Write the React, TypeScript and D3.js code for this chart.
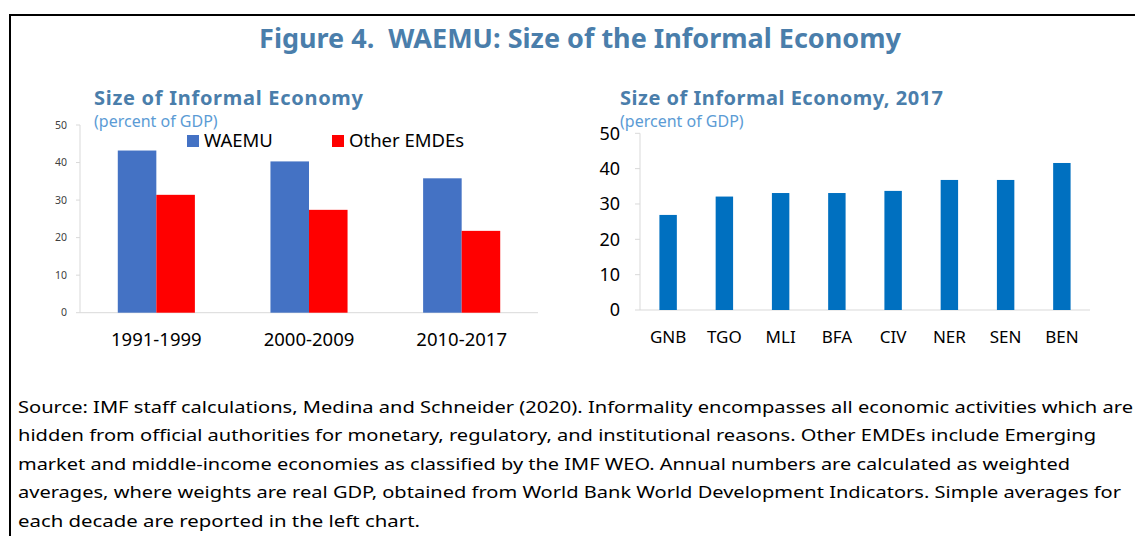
import React, { useEffect } from 'react'
import * as d3 from 'd3'

const PERIODS = ['1991-1999', '2000-2009', '2010-2017']
const SERIES = ['WAEMU', 'Other EMDEs']
const WAEMU_VALUES = [43.2, 40.3, 35.8]
const OTHER_VALUES = [31.4, 27.4, 21.8]
const SERIES_COLORS = ['#4472C4', '#FF0000']

const COUNTRIES = ['GNB', 'TGO', 'MLI', 'BFA', 'CIV', 'NER', 'SEN', 'BEN']
const COUNTRY_VALUES = [26.9, 32.1, 33.1, 33.1, 33.7, 36.8, 36.8, 41.6]

const Y_TICKS = [0, 10, 20, 30, 40, 50]

const NOTE_LINES = [
  'Source: IMF staff calculations, Medina and Schneider (2020). Informality encompasses all economic activities which are',
  'hidden from official authorities for monetary, regulatory, and institutional reasons. Other EMDEs include Emerging',
  'market and middle-income economies as classified by the IMF WEO. Annual numbers are calculated as weighted',
  'averages, where weights are real GDP, obtained from World Bank World Development Indicators. Simple averages for',
  'each decade are reported in the left chart.',
]
const NOTE_WIDTHS = [1115, 1078, 1052, 1103, 402]

const FONT = '"Segoe UI", "Noto Sans", "Open Sans", sans-serif'
const TITLE_BLUE = '#4A7EAB'
const SUB_BLUE = '#5B9BD5'
const AXIS_GREY = '#D9D9D9'

export default function App() {
  useEffect(() => {
    document.body.style.margin = '0'
  }, [])

  const W = 1135
  const H = 536

  // left chart scales
  const yL = d3.scaleLinear().domain([0, 50]).range([312.7, 125])
  const x0 = d3.scaleBand<string>().domain(PERIODS).range([80, 538]).paddingInner(0.495).paddingOuter(0.2475)
  const x1 = d3.scaleBand<string>().domain(SERIES).range([0, x0.bandwidth()])
  const leftData = [WAEMU_VALUES, OTHER_VALUES]

  // right chart scales
  const yR = d3.scaleLinear().domain([0, 50]).range([310, 133.3])
  const xR = d3.scaleBand<string>().domain(COUNTRIES).range([640, 1090]).paddingInner(0.69).paddingOuter(0.345)

  return (
    <svg width={W} height={H} style={{ display: 'block', background: '#fff' }} fontFamily={FONT}>
      {/* frame */}
      <line x1={10} x2={W} y1={15} y2={15} stroke="#000" strokeWidth={2} />
      <line x1={10} x2={10} y1={14} y2={H} stroke="#000" strokeWidth={2} />

      <text x={580} y={48} textAnchor="middle" fontSize={27} fontWeight="bold" fill={TITLE_BLUE} style={{ whiteSpace: 'pre' }}>
        {'Figure 4.\u00a0 WAEMU: Size of the Informal Economy'}
      </text>

      {/* left chart */}
      <text x={94} y={105} fontSize={20} fontWeight="bold" fill={TITLE_BLUE} textLength={269} lengthAdjust="spacing">
        Size of Informal Economy
      </text>
      <text x={94} y={127} fontSize={16} fill={SUB_BLUE}>(percent of GDP)</text>

      <line x1={80} x2={80} y1={yL(50)} y2={yL(0)} stroke={AXIS_GREY} />
      <line x1={80} x2={538} y1={yL(0)} y2={yL(0)} stroke={AXIS_GREY} />
      {Y_TICKS.map((t) => (
        <g key={'l' + t}>
          <line x1={76} x2={80} y1={yL(t)} y2={yL(t)} stroke={AXIS_GREY} />
          <text x={67} y={yL(t)} dy="0.35em" textAnchor="end" fontSize={10.5} fill="#404040">{t}</text>
        </g>
      ))}
      {PERIODS.map((p, i) => (
        <g key={p}>
          {SERIES.map((s, j) => (
            <rect
              key={s}
              x={(x0(p) ?? 0) + (x1(s) ?? 0)}
              y={yL(leftData[j][i])}
              width={x1.bandwidth()}
              height={yL(0) - yL(leftData[j][i])}
              fill={SERIES_COLORS[j]}
            />
          ))}
          <text x={(x0(p) ?? 0) + x0.bandwidth() / 2} y={340} dy="0.35em" textAnchor="middle" fontSize={18.5} fill="#000">{p}</text>
        </g>
      ))}
      {/* legend */}
      {SERIES.map((s, j) => {
        const lx = [187, 332][j]
        return (
          <g key={'lg' + s}>
            <rect x={lx} y={135} width={12} height={12} fill={SERIES_COLORS[j]} />
            <text x={lx + 17} y={141} dy="0.35em" fontSize={18.5} fill="#000">{s}</text>
          </g>
        )
      })}

      {/* right chart */}
      <text x={620} y={105} fontSize={20} fontWeight="bold" fill={TITLE_BLUE} textLength={323} lengthAdjust="spacing">
        Size of Informal Economy, 2017
      </text>
      <text x={620} y={127} fontSize={16} fill={SUB_BLUE}>(percent of GDP)</text>

      <line x1={640} x2={640} y1={yR(50)} y2={yR(0)} stroke={AXIS_GREY} />
      <line x1={640} x2={1090} y1={yR(0)} y2={yR(0)} stroke={AXIS_GREY} />
      {Y_TICKS.map((t) => (
        <g key={'r' + t}>
          <line x1={635} x2={640} y1={yR(t)} y2={yR(t)} stroke={AXIS_GREY} />
          <text x={620} y={yR(t)} dy="0.35em" textAnchor="end" fontSize={18} fill="#000">{t}</text>
        </g>
      ))}
      {COUNTRIES.map((c, i) => (
        <g key={c}>
          <rect
            x={xR(c) ?? 0}
            y={yR(COUNTRY_VALUES[i])}
            width={xR.bandwidth()}
            height={yR(0) - yR(COUNTRY_VALUES[i])}
            fill="#0070C0"
          />
          <text x={(xR(c) ?? 0) + xR.bandwidth() / 2} y={337} dy="0.35em" textAnchor="middle" fontSize={17} fill="#000">{c}</text>
        </g>
      ))}

      {/* note */}
      {NOTE_LINES.map((l, i) => (
        <text
          key={i}
          x={18}
          y={407 + i * 28.5}
          dy="0.35em"
          fontSize={17}
          fill="#000"
          textLength={NOTE_WIDTHS[i]}
          lengthAdjust="spacingAndGlyphs"
        >
          {l}
        </text>
      ))}
    </svg>
  )
}
